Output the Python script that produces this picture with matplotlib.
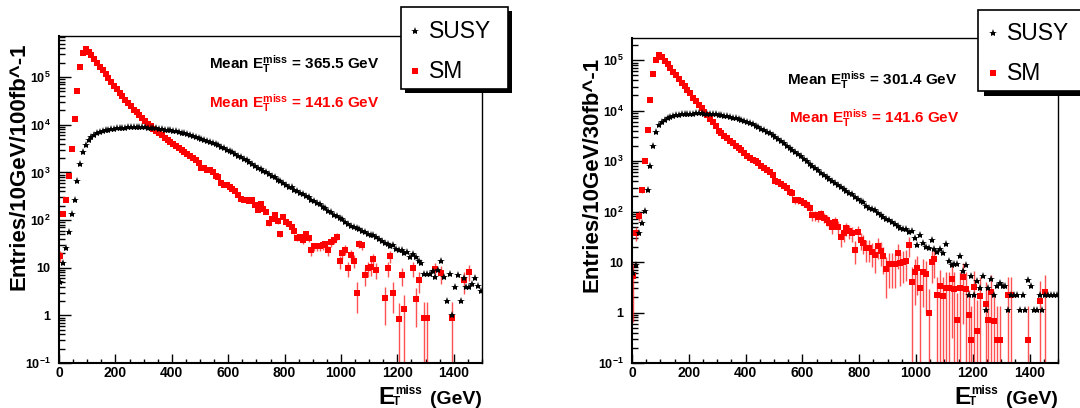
import numpy as np
import matplotlib
matplotlib.use("Agg")
import matplotlib.pyplot as plt
from matplotlib import font_manager
from matplotlib.lines import Line2D
from matplotlib.patches import Rectangle
from matplotlib.ticker import MultipleLocator, FixedLocator, NullFormatter, FuncFormatter

# 10 GeV bins, 0 - 1500 GeV
bin_edges = np.arange(0, 1510, 10)
bin_centres = 0.5 * (bin_edges[:-1] + bin_edges[1:])

# entries per bin, 100 fb^-1
susy_100 = [
    5.1, 12.6, 25.7, 57.5, 132, 263, 661, 1510, 2630, 3720,
    4790, 5500, 6170, 6760, 7080, 7410, 7760, 7940, 8130, 8320,
    8510, 8610, 8710, 8680, 8810, 8910, 8900, 8950, 8920, 8810,
    8830, 8710, 8690, 8510, 8410, 8320, 8130, 7940, 7760, 7590,
    7410, 7240, 7080, 6760, 6610, 6310, 6030, 5750, 5500, 5250,
    5010, 4790, 4570, 4370, 4170, 3980, 3720, 3470, 3240, 3020,
    2820, 2630, 2450, 2240, 2090, 1950, 1820, 1660, 1510, 1380,
    1260, 1170, 1060, 1000, 940, 845, 790, 700, 655, 598,
    556, 505, 487, 430, 405, 365, 352, 318, 300, 270,
    255, 230, 218, 188, 178, 155, 148, 128, 124, 108,
    105, 93, 83, 76, 72, 68, 66, 60, 55, 52,
    48, 49, 44, 40, 36, 33, 32, 28, 30, 25,
    23, 24, 20, 21, 17, 19, 17, 14, 12.6, 7.4,
    7.4, 7.4, 8.5, 6.3, 8.9, 13.5, 6.3, 2.0, 7.4, 1.0,
    4.0, 7.1, 2.0, 6.0, 4.0, 4.0, 4.5, 6.0, 4.2, 3.2,
]
sm_100 = [
    18, 132, 270, 830, 3160, 13200, 50000, 166000, 324000, 380000,
    339000, 288000, 240000, 200000, 166000, 138000, 115000, 95500, 79400, 66100,
    55000, 46800, 39800, 33900, 28800, 24500, 20900, 18200, 15800, 13800,
    12000, 10500, 9300, 8300, 7400, 6800, 6000, 5400, 4800, 4300,
    3900, 3550, 3240, 2950, 2630, 2400, 2240, 2040, 1860, 1580,
    1260, 1260, 1120, 1100, 1000, 830, 790, 600, 550, 537,
    500, 457, 417, 331, 275, 263, 269, 257, 263, 204,
    166, 219, 174, 151, 87, 107, 126, 95, 52, 115,
    91, 83, 71, 60, 43, 44, 38, 52, 42, 23,
    28, 28, 28, 30, 31, 23, 34, 38, 45, 13.5,
    20, 24, 10, 18.6, 14, 3.0, 32, 29.5, 7.1, 10,
    10.2, 15, 9.1, 0, 0, 2.3, 10, 17.4, 3.0, 0,
    0.85, 7.1, 1.35, 0, 0, 10, 2.2, 5.6, 0, 0.9,
    0.9, 0, 0, 9.3, 0, 7.6, 0, 0, 0, 0.9,
    0, 0, 0, 5.4, 0, 8.3, 0, 0, 0, 0,
]

# entries per bin, 30 fb^-1
susy_30 = [
    6.2, 8.9, 38, 59, 102, 263, 813, 2000, 3800, 5130,
    6030, 6610, 7080, 7410, 7760, 8040, 8220, 8410, 8510, 8610,
    8710, 8700, 8810, 8800, 8820, 8710, 8690, 8610, 8510, 8410,
    8320, 8130, 7940, 7760, 7590, 7240, 7080, 6760, 6460, 6170,
    5890, 5620, 5370, 5010, 4680, 4370, 4070, 3800, 3550, 3240,
    2950, 2690, 2450, 2240, 2040, 1860, 1700, 1550, 1410, 1260,
    1100, 1000, 891, 794, 724, 661, 589, 525, 479, 437,
    398, 363, 331, 302, 275, 251, 234, 219, 191, 174,
    162, 158, 132, 120, 112, 107, 95, 85, 79, 72,
    69, 62, 58, 52, 48, 45, 46, 40, 42, 30,
    22, 35, 24, 20, 19, 28, 18, 16, 18, 15,
    23, 10.5, 8.9, 9.1, 9.1, 13.2, 6.6, 8.7, 2.2, 5.2,
    2.2, 4.2, 3.0, 5.2, 1.1, 3.0, 4.6, 2.2, 3.3, 3.8,
    3.3, 3.3, 1.1, 2.2, 2.2, 2.2, 1.1, 2.2, 1.1, 4.4,
    3.3, 1.1, 1.1, 2.2, 1.1, 2.2, 2.2, 2.2, 2.2, 2.2,
]
sm_30 = [
    5.2, 38, 83, 269, 1000, 4170, 16600, 52500, 102000, 126000,
    115000, 97700, 83200, 70800, 58900, 50100, 42700, 35500, 30200, 25700,
    21900, 18200, 15500, 13200, 11200, 9550, 8130, 6920, 5890, 5010,
    4000, 3550, 3160, 2820, 2510, 2290, 2040, 1860, 1660, 1480,
    1290, 1170, 1070, 1000, 912, 813, 741, 676, 617, 525,
    407, 380, 355, 316, 288, 245, 229, 170, 166, 162,
    145, 138, 120, 85, 85, 79, 89, 76, 68, 60,
    50, 63, 50, 31, 37, 47, 42, 37, 17.4, 40,
    27.5, 24, 18.6, 18.6, 15.8, 13.5, 20.4, 16.6, 12.9, 7.4,
    9.1, 9.1, 9.1, 15.1, 9.5, 10.2, 10.7, 21.9, 4.1, 6.5,
    7.8, 3.0, 6.3, 5.8, 0.98, 10.2, 11.7, 2.2, 3.3, 2.1,
    3.0, 3.0, 4.6, 2.9, 0.72, 3.0, 5.1, 2.9, 0.89, 0.28,
    3.2, 0.44, 2.1, 0, 1.5, 0.72, 2.5, 0.69, 0.28, 0.28,
    0, 0, 2.2, 2.2, 0, 0, 0, 0, 0, 0.28,
    0, 0, 0, 1.7, 0, 2.5, 0, 0, 0, 0,
]

mean_susy_100 = 365.5
mean_susy_30 = 301.4
mean_sm = 141.6

# typical event weight of the SM sample, used for the error bars
sm_weight_100 = 1.2
sm_weight_30 = 4.0

W, H = 1080, 408


def fx(px):
    return px / W


def fy(py):
    return 1 - py / H


def pick_family(names):
    for name in names:
        try:
            font_manager.findfont(font_manager.FontProperties(family=name),
                                  fallback_to_default=False)
            return name
        except ValueError:
            continue
    return "DejaVu Sans"


BASE_FONT = pick_family(["Liberation Sans", "Arial", "DejaVu Sans"])
NARROW_FONT = pick_family(["Liberation Sans Narrow", BASE_FONT])
HAS_NARROW = NARROW_FONT != BASE_FONT

plt.rcParams["font.family"] = BASE_FONT
plt.rcParams["font.weight"] = "bold"
plt.rcParams["mathtext.fontset"] = "custom"
plt.rcParams["mathtext.rm"] = NARROW_FONT
plt.rcParams["mathtext.bf"] = NARROW_FONT + ":bold"
plt.rcParams["mathtext.it"] = NARROW_FONT + ":italic"

LEGEND_SIZE = 19 if HAS_NARROW else 16.5
MEAN_SIZE = 13 if HAS_NARROW else 11
E_SIZE = 21 if HAS_NARROW else 17.5
SCRIPT_SIZE = 10 if HAS_NARROW else 8.5


def decade_label(v, pos):
    e = int(round(np.log10(v)))
    if e in (0, 1):
        return str(10 ** e)
    return r"$\mathdefault{10^{%d}}$" % e


def draw_panel(ax, susy, sm, sm_weight, ymax):
    susy = np.asarray(susy, dtype=float)
    sm = np.asarray(sm, dtype=float)

    keep = sm > 0
    x_sm = bin_centres[keep]
    y_sm = sm[keep]
    err = np.sqrt(y_sm * sm_weight)
    err_lo = np.where(err < y_sm, err, y_sm * 0.999)
    ax.errorbar(x_sm, y_sm, yerr=[err_lo, err], fmt="s", ms=5, mfc="red",
                mec="red", mew=0, ecolor=(1.0, 0.15, 0.15, 0.8),
                elinewidth=1.0, capsize=0, zorder=2)

    on = susy > 0
    ax.plot(bin_centres[on], susy[on], ls="none", marker="*", ms=6,
            color="black", mew=0, zorder=3)

    ax.set_yscale("log")
    ax.set_xlim(0, 1500)
    ax.set_ylim(0.1, ymax)
    ax.xaxis.set_major_locator(MultipleLocator(200))
    ax.xaxis.set_minor_locator(MultipleLocator(50))

    decades = [10.0 ** e for e in range(-1, 6) if 10.0 ** e <= ymax]
    minors = [m * d for d in decades for m in range(2, 10) if m * d <= ymax]
    ax.yaxis.set_major_locator(FixedLocator(decades))
    ax.yaxis.set_minor_locator(FixedLocator(minors))
    ax.yaxis.set_minor_formatter(NullFormatter())
    ax.yaxis.set_major_formatter(FuncFormatter(decade_label))

    ax.tick_params(which="both", direction="in", top=False, right=False, width=1.0)
    ax.tick_params(axis="x", which="major", length=6.5, pad=2, labelsize=10)
    ax.tick_params(axis="x", which="minor", length=3.2)
    ax.tick_params(axis="y", which="major", length=8.5, pad=6, labelsize=9)
    ax.tick_params(axis="y", which="minor", length=4.5)
    for side in ("left", "bottom"):
        ax.spines[side].set_linewidth(1.5)
    for side in ("top", "right"):
        ax.spines[side].set_linewidth(1.0)


def draw_legend(fig, box, shadow, marker_x, text_x, rows):
    x0, y0, x1, y1 = box
    dx, dy = shadow
    fig.add_artist(Rectangle((fx(x0 + dx), fy(y1 + dy)), (x1 - x0) / W, (y1 - y0) / H,
                             transform=fig.transFigure, facecolor="black",
                             edgecolor="none", zorder=5))
    fig.add_artist(Rectangle((fx(x0), fy(y1)), (x1 - x0) / W, (y1 - y0) / H,
                             transform=fig.transFigure, facecolor="white",
                             edgecolor="black", linewidth=1.2, zorder=6))
    styles = [dict(marker="*", color="black", ms=6),
              dict(marker="s", color="red", ms=4)]
    for (label, y), style in zip(rows, styles):
        fig.add_artist(Line2D([fx(marker_x)], [fy(y)], transform=fig.transFigure,
                              ls="none", mew=0, zorder=7, **style))
        fig.text(fx(text_x), fy(y), label, ha="left", va="center",
                 fontsize=LEGEND_SIZE, fontweight="normal", family=NARROW_FONT,
                 zorder=7)


def draw_xlabel(fig, right, baseline):
    # E with stacked "miss" / "T", then the unit
    fig.text(fx(right - 104), fy(baseline), "E", ha="left", va="baseline",
             fontsize=E_SIZE, family=NARROW_FONT)
    fig.text(fx(right - 87), fy(baseline - 10), "miss", ha="left", va="baseline",
             fontsize=SCRIPT_SIZE, family=NARROW_FONT)
    fig.text(fx(right - 89), fy(baseline + 1), "T", ha="left", va="baseline",
             fontsize=SCRIPT_SIZE, family=NARROW_FONT)
    fig.text(fx(right), fy(baseline), "(GeV)", ha="right", va="baseline",
             fontsize=14)


def mean_text(value):
    return r"Mean $\mathbf{E_{T}^{miss}}$ = %.1f GeV" % value


fig = plt.figure(figsize=(W / 100, H / 100), dpi=100)

ax_l = fig.add_axes([fx(59), fy(363), (482 - 59) / W, (363 - 36) / H])
draw_panel(ax_l, susy_100, sm_100, sm_weight_100, 10 ** 5.863)
ax_r = fig.add_axes([fx(632), fy(363), (1058 - 632) / W, (363 - 38) / H])
draw_panel(ax_r, susy_30, sm_30, sm_weight_30, 10 ** 5.44)

fig.text(fx(19), fy(166), "Entries/10GeV/100fb^-1", rotation=90,
         ha="center", va="center", fontsize=16)
fig.text(fx(592), fy(174), "Entries/10GeV/30fb^-1", rotation=90,
         ha="center", va="center", fontsize=16)

fig.text(fx(209), fy(69), mean_text(mean_susy_100), color="black",
         ha="left", va="baseline", fontsize=MEAN_SIZE, family=NARROW_FONT)
fig.text(fx(209), fy(108), mean_text(mean_sm), color="red",
         ha="left", va="baseline", fontsize=MEAN_SIZE, family=NARROW_FONT)
fig.text(fx(787), fy(85), mean_text(mean_susy_30), color="black",
         ha="left", va="baseline", fontsize=MEAN_SIZE, family=NARROW_FONT)
fig.text(fx(789), fy(123), mean_text(mean_sm), color="red",
         ha="left", va="baseline", fontsize=MEAN_SIZE, family=NARROW_FONT)

draw_xlabel(fig, 482, 404)
draw_xlabel(fig, 1058, 404)

draw_legend(fig, (401, 7, 508, 89), (4, 4), 415, 429,
            [("SUSY", 31), ("SM", 71)])
draw_legend(fig, (978, 10, 1095, 91), (6, 5), 993, 1007,
            [("SUSY", 33), ("SM", 73)])

fig.savefig("out.png", dpi=100)
